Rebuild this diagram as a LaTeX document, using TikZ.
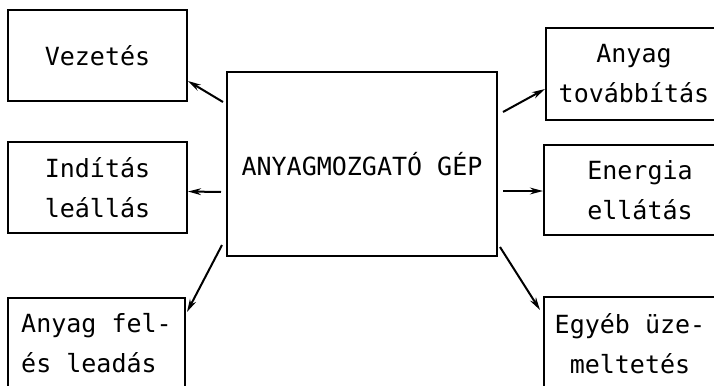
\documentclass[tikz,border=0pt]{standalone}
\usepackage{fontspec}
\setmainfont{DejaVu Sans Mono}
\usetikzlibrary{calc,arrows.meta}
\begin{document}
\begin{tikzpicture}[x=0.5pt,y=-0.5pt,
  every node/.style={inner sep=0pt,outer sep=0pt,font=\fontsize{12.5}{20}\selectfont},
  boxnode/.style={draw,line width=1pt,anchor=north west,align=center},
  link/.style={line width=1pt,-{Stealth[length=6.5pt,width=3.4pt]}}]
\useasboundingbox (0,0) rectangle (714,386);
\clip (0,0) rectangle (714,386);
% left boxes
\node[boxnode,minimum width=89.5pt,minimum height=45.5pt] (v) at (8,10) {Vezetés};
\node[boxnode,minimum width=89.5pt,minimum height=45.5pt] (i) at (8,142) {Indítás\\leállás};
\node[boxnode,minimum width=88.5pt,minimum height=45pt,align=left] (f) at (8,298) {Anyag fel-\\és leadás};
% centre
\node[boxnode,minimum width=135pt,minimum height=92pt] (c) at (227,72) {\raisebox{-3pt}{ANYAGMOZGATÓ GÉP}};
% right boxes
\node[boxnode,minimum width=88pt,minimum height=46pt] (t) at (546,28) {Anyag\\továbbítás};
\node[boxnode,minimum width=96pt,minimum height=45pt] (e) at (544,145) {Energia\\ellátás};
\node[boxnode,minimum width=86pt,minimum height=47pt] (u) at (544,297) {Egyéb üze-\\meltetés};
% connectors
\draw[link] ($(c.north west)+(-4,30)$) -- ($(v.south east)+(1,-20)$);
\draw[link] ($(c.west)+(-6,28)$) -- ($(i.east)+(1,4)$);
\draw[link] ($(c.south west)+(-5,-11)$) -- ($(f.north east)+(2,14)$);
\draw[link] ($(c.north east)+(6,40)$) -- ($(t.west)+(-1,15)$);
\draw[link] ($(c.east)+(6,27)$) -- ($(e.west)+(-1,1)$);
\draw[link] ($(c.south east)+(3,-9)$) -- ($(u.north west)+(-4,13)$);
\end{tikzpicture}
\end{document}
